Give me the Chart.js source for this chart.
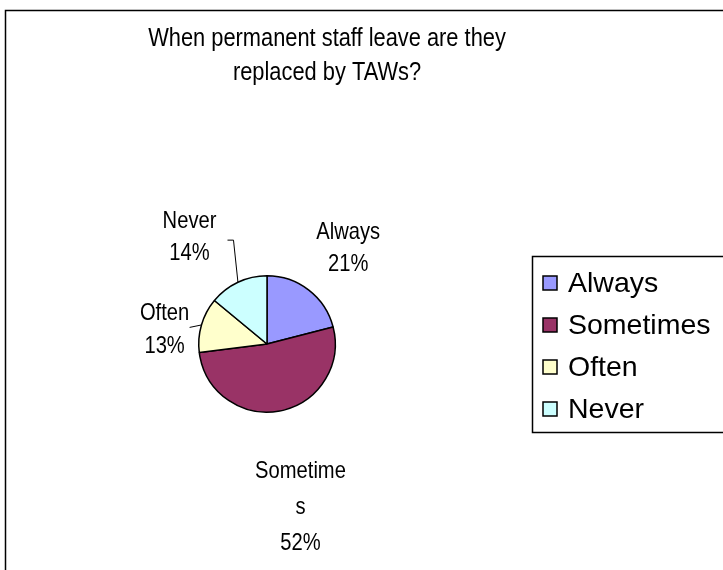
<!DOCTYPE html>
<html>
<head>
<meta charset="utf-8">
<script src="https://cdn.jsdelivr.net/npm/chart.js@4"></script>
<style>
  html, body { margin: 0; padding: 0; background: #fff; }
  #wrap { width: 723px; height: 570px; position: relative; }
</style>
</head>
<body>
<div id="wrap"><canvas id="c" width="723" height="570"></canvas></div>
<script>
const titleLines = ["When permanent staff leave are they", "replaced by TAWs?"];
const categories = ["Always", "Sometimes", "Often", "Never"];
const values = [21, 52, 13, 14];
const colors = ["#9999FF", "#993366", "#FFFFCC", "#CCFFFF"];

const FONT = '"Liberation Sans", Arial, sans-serif';

// label placement: radial distance factor and angle tweak (degrees), per slice
const labelPlace = [
  { dist: 1.86, dAng: 2, dy: 2, lines: 32, leader: false },
  { dist: 2.40, dAng: -1, dy: 3, lines: 36, leader: false },
  { dist: 1.52, dAng: -7, dy: 2, lines: 33, leader: true },
  { dist: 1.97, dAng: -10, dy: 3, lines: 32, leader: true }
];

function drawText(ctx, t, x, y, size, sx, align) {
  ctx.save();
  ctx.translate(x, y);
  ctx.scale(sx, 1);
  ctx.font = size + 'px ' + FONT;
  ctx.textAlign = align || 'center';
  ctx.textBaseline = 'middle';
  ctx.fillStyle = '#000';
  ctx.fillText(t, 0, 0);
  ctx.restore();
}

function wrapText(ctx, text, maxW, size, sx) {
  ctx.save();
  ctx.font = size + 'px ' + FONT;
  const out = [];
  let cur = '';
  for (const ch of text) {
    if (ctx.measureText(cur + ch).width * sx > maxW && cur) { out.push(cur); cur = ch; }
    else cur += ch;
  }
  if (cur) out.push(cur);
  ctx.restore();
  return out;
}

const decor = {
  id: 'decor',
  beforeDraw(chart) {
    const ctx = chart.ctx;
    ctx.save();
    ctx.fillStyle = '#fff';
    ctx.fillRect(0, 0, chart.width, chart.height);
    ctx.strokeStyle = '#000';
    ctx.lineWidth = 1.5;
    ctx.strokeRect(5.5, 10.5, 760, 600);
    titleLines.forEach((t, i) => drawText(ctx, t, 327, 39 + i * 34, 26, 0.84));
    ctx.restore();
  },
  afterDraw(chart) {
    const ctx = chart.ctx;
    const meta = chart.getDatasetMeta(0);
    const total = values.reduce((a, b) => a + b, 0);
    ctx.save();
    meta.data.forEach((arc, i) => {
      const p = arc.getProps(['x', 'y', 'startAngle', 'endAngle', 'outerRadius'], true);
      const lp = labelPlace[i];
      const mid = (p.startAngle + p.endAngle) / 2 + lp.dAng * Math.PI / 180;
      const r = p.outerRadius * lp.dist;
      const cx = p.x + Math.cos(mid) * r;
      const cy = p.y + Math.sin(mid) * r + lp.dy;
      const pct = Math.round(values[i] / total * 100) + '%';
      const lines = wrapText(ctx, categories[i], 95, 24, 0.84).concat([pct]);
      const y0 = cy - (lines.length - 1) * lp.lines / 2;
      lines.forEach((t, k) => drawText(ctx, t, cx, y0 + k * lp.lines, 24, 0.84));
      if (lp.leader) {
        const m = (p.startAngle + p.endAngle) / 2;
        const ex = p.x + Math.cos(m) * p.outerRadius;
        const ey = p.y + Math.sin(m) * p.outerRadius;
        ctx.strokeStyle = '#000';
        ctx.lineWidth = 1;
        ctx.beginPath();
        if (i === 3) {
          const sx = cx + 44, sy = cy + 3;
          ctx.moveTo(sx - 6, sy); ctx.lineTo(sx, sy); ctx.lineTo(ex, ey);
        } else {
          const sx = cx + 25, sy = cy - 2;
          ctx.moveTo(sx, sy); ctx.lineTo(ex, ey);
        }
        ctx.stroke();
      }
    });
    // legend
    const lx = 532.5, ly = 256.5, lw = 220, lhgt = 176;
    ctx.strokeStyle = '#000';
    ctx.lineWidth = 1.5;
    ctx.strokeRect(lx, ly, lw, lhgt);
    categories.forEach((c, i) => {
      const yy = 283 + i * 42;
      ctx.fillStyle = colors[i];
      ctx.fillRect(543, yy - 7, 14, 14);
      ctx.strokeStyle = '#000';
      ctx.lineWidth = 1.5;
      ctx.strokeRect(543, yy - 7, 14, 14);
      drawText(ctx, c, 568, yy + 1, 28.5, 1, 'left');
    });
    ctx.restore();
  }
};

new Chart(document.getElementById('c'), {
  type: 'pie',
  data: {
    labels: categories,
    datasets: [{
      data: values,
      backgroundColor: colors,
      borderColor: '#000',
      borderWidth: 1.5
    }]
  },
  options: {
    responsive: false,
    animation: false,
    layout: { padding: { left: 198, right: 387, top: 275, bottom: 157 } },
    plugins: { legend: { display: false }, title: { display: false }, tooltip: { enabled: false } }
  },
  plugins: [decor]
});
</script>
</body>
</html>
